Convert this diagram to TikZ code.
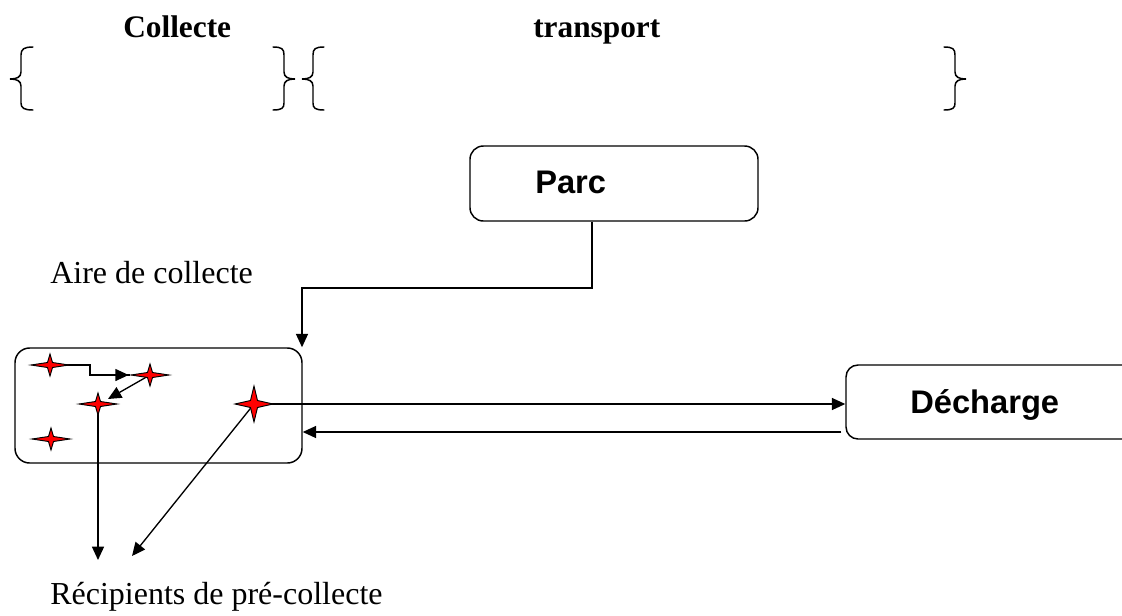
\documentclass[tikz,border=0pt]{standalone}
\usepackage{fontspec}
\setmainfont{Liberation Serif}
\newfontfamily\arialfont{Liberation Sans}
\usetikzlibrary{arrows.meta,calc}
\tikzset{
  pics/fourstar/.style n args={3}{code={
    \filldraw[fill=red,draw=black,line width=0.7pt,line join=miter]
      (-#1,0) -- (-#3,-#3) -- (0,-#2) -- (#3,-#3) -- (#1,0) -- (#3,#3) -- (0,#2) -- (-#3,#3) -- cycle;}},
}
\begin{document}
\begin{tikzpicture}[x=0.75pt,y=-0.75pt,
  conn/.style={line width=1pt},
  arr/.style={line width=1pt,-{Triangle[length=10pt,width=9pt]}},
  boxstyle/.style={draw,line width=1.1pt,rounded corners=10pt,inner sep=0pt},
  titletext/.style={font=\fontsize{23.5}{28}\selectfont\bfseries,anchor=base west,inner sep=0pt},
  plaintext/.style={font=\fontsize{24}{28}\selectfont,anchor=base west,inner sep=0pt},
  boxtext/.style={font=\arialfont\bfseries\fontsize{24.5}{28}\selectfont,anchor=base west,inner sep=0pt},
  bracestyle/.style={line width=1.1pt,line cap=round}]
\useasboundingbox (0,0) rectangle (1122,615);

% titles
\node[titletext] (tcoll) at (123,37) {Collecte};
\node[titletext] (ttrans) at (533,37) {transport};

% braces
\draw[bracestyle] (33,47) .. controls (24,47) and (21,49) .. (21,55) -- (21,72)
  .. controls (21,77) and (17,79) .. (10,79) .. controls (17,79) and (21,81) .. (21,86)
  -- (21,103) .. controls (21,108) and (24,110) .. (33,110);
\draw[bracestyle] (273,47) .. controls (282,47) and (284,49) .. (284,55) -- (284,72)
  .. controls (284,77) and (288,79) .. (295,79) .. controls (288,79) and (284,81) .. (284,86)
  -- (284,103) .. controls (284,108) and (282,110) .. (273,110);
\draw[bracestyle] (324,47) .. controls (315,47) and (313,49) .. (313,55) -- (313,72)
  .. controls (313,77) and (309,79) .. (302,79) .. controls (309,79) and (313,81) .. (313,86)
  -- (313,103) .. controls (313,108) and (315,110) .. (324,110);
\draw[bracestyle] (944,47) .. controls (953,47) and (955,49) .. (955,55) -- (955,72)
  .. controls (955,77) and (959,79) .. (966,79) .. controls (959,79) and (955,81) .. (955,86)
  -- (955,103) .. controls (955,108) and (953,110) .. (944,110);

% boxes
\node[boxstyle,minimum width=216pt,minimum height=56.25pt] (parc) at (614,183.5) {};
\node[boxtext] (parclab) at (535,193) {Parc};
\node[boxstyle,minimum width=215.25pt,minimum height=86.25pt,rounded corners=11pt] (aire) at (158.5,405.5) {};
\node[boxstyle,minimum width=225pt,minimum height=55.5pt,rounded corners=9pt] (dech) at (996,402) {};
\node[boxtext] (dechlab) at (910,413) {Décharge};

% labels
\node[plaintext] (airelab) at (50,283) {Aire de collecte};
\node[plaintext] (reclab) at (50,604) {Récipients de pré-collecte};

% star positions
\coordinate (s1) at (50,365);
\coordinate (s2) at (150,375);
\coordinate (s3) at (98,404);
\coordinate (s4) at (51,439);
\coordinate (s5) at (254,404);
\coordinate (r1) at (92,560);
\coordinate (r2) at (132,556);

% connectors
\draw[arr] ([xshift=-16.5pt]parc.south) |- (302,288) -- (aire.north east -| 302,0);
\draw[conn] (s1) -- ++(40,0) |- ([xshift=-15pt]s2);
\draw[arr] ($(s1)+(40,10)$) -- ([xshift=-16pt]s2);
\draw[arr] (s2) -- ($(s3)+(10,-5)$);
\draw[arr] (s3) -- (s3 |- r1);
\draw[arr] (s5) -- (r2);
\draw[arr] (s5) -- (dech.west |- s5);
\draw[arr] ([xshift=-3pt]dech.west |- 0,432) -- (aire.east |- 0,432);

% stars
\pic at (s1) {fourstar={19}{11}{2.5}};
\pic at (s2) {fourstar={19}{11}{2.5}};
\pic at (s3) {fourstar={19}{11}{2.5}};
\pic at (s4) {fourstar={19}{11}{2.5}};
\pic at (s5) {fourstar={19}{18}{3.5}};
\end{tikzpicture}
\end{document}
